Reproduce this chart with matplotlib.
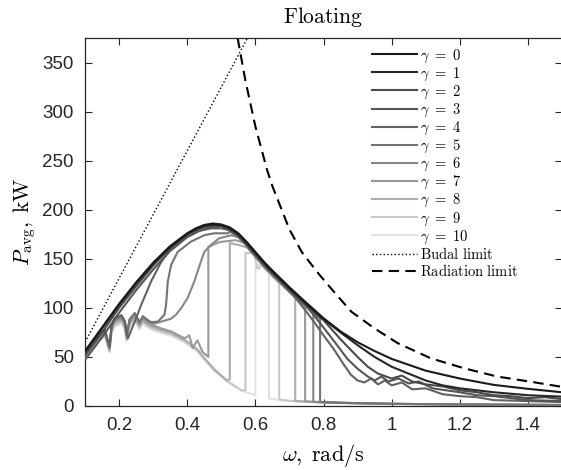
import numpy as np
import matplotlib
matplotlib.use('Agg')
import matplotlib.pyplot as plt

plt.rcParams['mathtext.fontset'] = 'cm'
plt.rcParams['font.family'] = ['Liberation Sans', 'DejaVu Sans']

# --- values (omega in rad/s, power in kW) ---
# upper envelope (gamma = 0)
ENV_W = [0.10, 0.125, 0.15, 0.175, 0.20, 0.25, 0.30, 0.35, 0.40, 0.425, 0.45, 0.475, 0.50,
         0.525, 0.55, 0.575, 0.60, 0.625, 0.65, 0.70, 0.75, 0.80, 0.85, 0.90, 0.95, 1.00,
         1.05, 1.10, 1.20, 1.30, 1.40, 1.50]
ENV_P = [56, 68, 80, 92, 104, 126, 146, 163, 176, 181, 184.5, 186, 185,
         182, 176, 167, 157, 147, 138, 121, 105, 89.5, 76, 65, 56, 48,
         42, 36, 28, 21.5, 17.5, 14]

# lower (noisy) branch shared by the high-gamma runs
BASE_W = [0.10, 0.12, 0.14, 0.158, 0.172, 0.178, 0.187, 0.207, 0.217, 0.222, 0.231, 0.246,
          0.26, 0.27, 0.28, 0.294, 0.324, 0.353, 0.392, 0.43, 0.45, 0.48, 0.515, 0.56,
          0.60, 0.65, 0.70, 0.77, 0.85, 1.00, 1.20, 1.50]
BASE_P = [52, 62, 70, 75, 58, 79, 86, 89, 83, 70, 86, 92,
          83, 89, 86, 83, 79, 76, 69, 59, 50, 38, 27, 16.5,
          11, 7.5, 5.5, 4.2, 3.2, 2.2, 1.5, 1.0]

# gamma-specific pieces
G1_TAIL_W = [0.90, 0.95, 1.00, 1.05, 1.10, 1.15, 1.20, 1.30, 1.40, 1.50]
G1_TAIL_P = [62, 50, 40, 33, 26, 21, 18, 14, 11, 9.5]

G2_LOW_W = [0.10, 0.15, 0.20, 0.25, 0.30, 0.35, 0.40, 0.45, 0.50]
G2_LOW_P = [51, 75, 100, 122, 143, 161, 175, 183, 184]
G2_TAIL_W = [0.85, 0.90, 0.93, 0.96, 1.00, 1.03, 1.06, 1.10, 1.15, 1.20, 1.25, 1.30, 1.35,
             1.40, 1.45, 1.50]
G2_TAIL_P = [68, 50, 40, 33, 28, 31, 25, 22, 20, 16, 14, 11, 10, 8, 9, 7]

G3_LOW_W = [0.10, 0.15, 0.20, 0.25, 0.30, 0.35, 0.40, 0.45, 0.50, 0.55]
G3_LOW_P = [47, 70, 95, 118, 139, 158, 172, 181, 183, 175]
G3_TAIL_W = [0.80, 0.84, 0.87, 0.90, 0.93, 0.95, 0.97, 0.99, 1.02, 1.05, 1.08, 1.12, 1.16,
             1.20, 1.25, 1.30, 1.35, 1.40, 1.50]
G3_TAIL_P = [80, 62, 48, 38, 30, 26, 30, 25, 28, 23, 25, 18, 16, 14, 11, 10, 8, 6, 5]

G4_RISE_W = [0.226, 0.246, 0.265, 0.294, 0.324, 0.353, 0.392, 0.43, 0.47, 0.50]
G4_RISE_P = [69, 86, 103, 127, 147, 161, 171, 178, 181, 181]
G4_TAIL_W = [0.75, 0.78, 0.80, 0.83, 0.86, 0.88, 0.90, 0.92, 0.94, 0.96, 0.98, 1.00, 1.03,
             1.06, 1.10, 1.15, 1.20, 1.25, 1.30, 1.40, 1.50]
G4_TAIL_P = [96, 82, 72, 58, 42, 32, 26, 24, 28, 22, 26, 21, 24, 17, 18, 12, 10, 9, 6, 5, 4]

G5_RISE_W = [0.314, 0.333, 0.338, 0.343, 0.353, 0.372, 0.411, 0.45, 0.479, 0.52]
G5_RISE_P = [86, 93, 103, 127, 144, 157, 167.5, 174, 176, 176]

G6_RISE_W = [0.304, 0.324, 0.353, 0.367, 0.382, 0.401, 0.421, 0.44, 0.45, 0.469, 0.494,
             0.53, 0.56]
G6_RISE_P = [84, 86, 89, 93, 99.6, 110, 127, 147, 157, 164, 171, 174, 171]

G7_MID_W = [0.406, 0.416, 0.43, 0.445, 0.462, 0.462, 0.494, 0.542, 0.57]
G7_MID_P = [72, 59, 67, 55, 50, 162, 167, 169, 166]

G8_MID_W = [0.525, 0.525, 0.552, 0.58]
G8_MID_P = [27, 166, 164, 161]

G9_MID_W = [0.571, 0.571, 0.596, 0.605, 0.61, 0.62]
G9_MID_P = [16, 156, 156, 141, 140, 145]

G10_MID_W = [0.60, 0.60, 0.62]
G10_MID_P = [11, 142, 146]

# where each run leaves the envelope for the lower branch
DROP_W = {5: 0.79, 6: 0.77, 7: 0.746, 8: 0.717, 9: 0.67, 10: 0.64}
ENV_SHIFT = [0, -1, -2, -3, -3, -4, -4, -5, -5, -6, -6]
BASE_SCALE = {4: 1.04, 5: 1.03, 6: 1.02, 7: 1.0, 8: 0.98, 9: 0.96, 10: 0.94}

BUDAL_W = [0.10, 0.58]
BUDAL_P = [65, 377]

RAD_W = [0.548, 0.57, 0.60, 0.634, 0.65, 0.70, 0.736, 0.785, 0.834, 0.882, 0.95, 1.018,
         1.115, 1.213, 1.31, 1.407, 1.50]
RAD_P = [375, 333, 285, 241, 224, 180, 157, 135, 115, 96, 79, 64,
         48.6, 38.4, 30, 24.8, 19.5]

GRAYS = ['#1a1a1a', '#262626', '#4a4a4a', '#555555', '#626262', '#747474',
         '#868686', '#999999', '#adadad', '#c8c8c8', '#e2e2e2']


def seg(w, p, lo, hi, shift=0.0, scale=1.0):
    w = np.asarray(w, float)
    p = np.asarray(p, float)
    m = (w >= lo - 1e-9) & (w <= hi + 1e-9)
    return list(w[m]), list(p[m] * scale + shift)


def join(*parts):
    ws, ps = [], []
    for w, p in parts:
        ws += list(w)
        ps += list(p)
    return ws, ps


def base_at(w, g):
    return float(np.interp(w, BASE_W, BASE_P)) * BASE_SCALE[g]


def env_at(w, g):
    return float(np.interp(w, ENV_W, ENV_P)) + ENV_SHIFT[g]


curves = {}
curves[0] = (ENV_W, ENV_P)
curves[1] = join(seg(ENV_W, ENV_P, 0.1, 0.85, ENV_SHIFT[1]), (G1_TAIL_W, G1_TAIL_P))
curves[2] = join((G2_LOW_W, G2_LOW_P), seg(ENV_W, ENV_P, 0.525, 0.80, ENV_SHIFT[2]),
                 (G2_TAIL_W, G2_TAIL_P))
curves[3] = join((G3_LOW_W, G3_LOW_P), seg(ENV_W, ENV_P, 0.575, 0.75, ENV_SHIFT[3]),
                 (G3_TAIL_W, G3_TAIL_P))
curves[4] = join(seg(BASE_W, BASE_P, 0.1, 0.217, scale=BASE_SCALE[4]), (G4_RISE_W, G4_RISE_P),
                 seg(ENV_W, ENV_P, 0.525, 0.70, ENV_SHIFT[4]), (G4_TAIL_W, G4_TAIL_P))
curves[5] = join(seg(BASE_W, BASE_P, 0.1, 0.294, scale=BASE_SCALE[5]), (G5_RISE_W, G5_RISE_P))
curves[6] = join(seg(BASE_W, BASE_P, 0.1, 0.294, scale=BASE_SCALE[6]), (G6_RISE_W, G6_RISE_P))
curves[7] = join(seg(BASE_W, BASE_P, 0.1, 0.392, scale=BASE_SCALE[7]), (G7_MID_W, G7_MID_P))
curves[8] = join(seg(BASE_W, BASE_P, 0.1, 0.515, scale=BASE_SCALE[8]), (G8_MID_W, G8_MID_P))
curves[9] = join(seg(BASE_W, BASE_P, 0.1, 0.56, scale=BASE_SCALE[9]), (G9_MID_W, G9_MID_P))
curves[10] = join(seg(BASE_W, BASE_P, 0.1, 0.56, scale=BASE_SCALE[10]), (G10_MID_W, G10_MID_P))

for g in range(5, 11):
    w, p = curves[g]
    wd = DROP_W[g]
    e_w, e_p = seg(ENV_W, ENV_P, w[-1] + 0.001, wd - 0.001, ENV_SHIFT[g])
    b_w, b_p = seg(BASE_W, BASE_P, wd + 0.001, 1.5, scale=BASE_SCALE[g])
    curves[g] = join((w, p), (e_w, e_p), ([wd, wd], [env_at(wd, g), base_at(wd, g)]), (b_w, b_p))

fig = plt.figure(figsize=(5.61, 4.70), dpi=100)
ax = fig.add_axes([85 / 561, 64 / 470, 477 / 561, 368 / 470])

handles = []
for g in range(10, -1, -1):
    w, p = curves[g]
    ln, = ax.plot(w, p, color=GRAYS[g], lw=1.5, label=r'$\gamma\ =\ %d$' % g, zorder=3 + (10 - g) * 0.1)
    handles.append(ln)
handles = handles[::-1]
hb, = ax.plot(BUDAL_W, BUDAL_P, color='black', lw=1.0, ls=':', label=r'$\mathrm{Budal\ limit}$')
hr, = ax.plot(RAD_W, RAD_P, color='black', lw=1.5, ls=(0, (5, 3)), label=r'$\mathrm{Radiation\ limit}$')
handles += [hb, hr]

ax.set_xlim(0.1, 1.5)
ax.set_ylim(0, 375)
ax.set_xticks([0.2, 0.4, 0.6, 0.8, 1.0, 1.2, 1.4])
ax.set_xticklabels(['0.2', '0.4', '0.6', '0.8', '1', '1.2', '1.4'])
ax.set_yticks(np.arange(0, 351, 50))
ax.tick_params(direction='in', top=True, right=True, length=5, width=0.8,
               labelsize=13.5, colors='#262626', pad=8)
for s in ax.spines.values():
    s.set_color('#262626')
    s.set_linewidth(0.9)

ax.set_title(r'$\mathrm{Floating}$', fontsize=15.5, pad=11)
ax.set_xlabel(r'$\omega,\;\mathrm{rad/s}$', fontsize=16, labelpad=6)
ax.set_ylabel(r'$P_{\mathrm{avg}},\;\mathrm{kW}$', fontsize=15.5, labelpad=3)

ax.legend(handles=handles, loc='upper left', bbox_to_anchor=(0.602, 0.975), frameon=False,
          fontsize=10.5, handlelength=3.1, handletextpad=0.2, labelspacing=0.05,
          borderaxespad=0, borderpad=0)

fig.savefig('out.png', dpi=100)
